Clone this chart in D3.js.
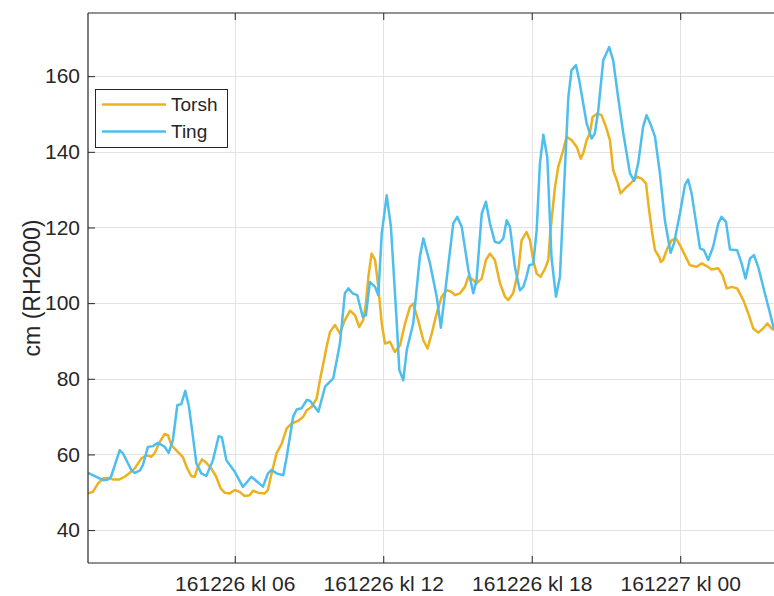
<!DOCTYPE html>
<html>
<head>
<meta charset="utf-8">
<script src="https://cdn.jsdelivr.net/npm/d3@7"></script>
<style>
  html, body { margin: 0; padding: 0; background: #fff; }
  svg { display: block; }
  text { font-family: "Liberation Sans", Arial, Helvetica, sans-serif; fill: #262626; }
</style>
</head>
<body>
<svg id="chart" width="774" height="596"></svg>
<script>
// Water level, hours after 2016-12-26 00:00, cm (RH2000)
const torshHours = [0.07,0.27,0.47,0.68,0.88,1.08,1.35,1.55,1.75,1.96,
  2.22,2.43,2.63,2.76,2.97,3.17,3.30,3.44,3.64,3.91,
  4.08,4.24,4.38,4.51,4.68,4.85,5.05,5.25,5.43,5.59,
  5.80,6.00,6.20,6.40,6.60,6.74,6.94,7.21,7.34,7.49,
  7.69,7.90,8.10,8.30,8.57,8.77,8.91,9.11,9.31,9.44,
  9.58,9.71,9.85,10.05,10.25,10.45,10.66,10.86,11.03,11.19,
  11.30,11.40,11.53,11.67,11.80,11.94,12.07,12.27,12.47,12.68,
  12.88,13.08,13.21,13.41,13.62,13.79,13.96,14.16,14.36,14.56,
  14.76,14.90,15.10,15.30,15.44,15.64,15.77,15.98,16.15,16.31,
  16.51,16.72,16.92,17.05,17.25,17.46,17.59,17.79,17.93,18.06,
  18.20,18.36,18.53,18.67,18.74,18.94,19.07,19.27,19.41,19.61,
  19.82,19.98,20.08,20.22,20.35,20.46,20.65,20.82,21.00,21.16,
  21.29,21.46,21.59,21.77,21.97,22.24,22.44,22.62,22.71,22.85,
  22.98,23.15,23.21,23.31,23.45,23.65,23.83,23.99,24.19,24.39,
  24.66,24.87,25.07,25.27,25.54,25.71,25.88,26.08,26.30,26.55,
  26.75,26.95,27.15,27.35,27.52,27.69,27.79];
const torshLevels = [49.7,50.1,52.3,53.7,53.8,53.4,53.4,54.1,55.1,56.3,
  58.9,59.8,59.4,60.3,63.3,65.4,65.1,62.5,61.1,59.2,
  56.3,54.3,54.1,56.7,58.7,57.8,56.3,54.1,51.0,49.9,
  49.7,50.6,50.1,49.0,49.2,50.4,49.9,49.7,50.6,55.0,
  60.3,62.9,66.9,68.2,68.9,70.0,71.7,72.6,74.8,79.6,
  84.1,88.4,92.4,94.2,92.0,95.5,98.0,96.8,93.7,95.5,
  99.9,107.0,113.1,111.4,104.3,94.6,89.3,89.8,87.1,88.9,
  94.6,99.0,99.9,95.5,90.2,88.0,92.0,97.3,101.7,103.4,
  103.0,102.1,102.6,104.3,107.0,106.1,105.2,106.5,111.4,113.1,
  111.4,105.2,101.7,100.8,102.6,108.7,116.6,118.8,116.6,111.4,
  107.8,107.0,109.0,111.4,118.0,130.7,136.0,140.4,144.0,143.1,
  141.3,138.2,139.6,143.1,144.9,149.2,150.1,149.7,146.6,143.1,
  135.2,132.1,129.0,130.3,131.5,133.4,132.9,131.6,126.3,119.3,
  114.0,112.2,110.9,111.4,114.0,116.6,117.1,115.3,112.7,110.0,
  109.6,110.5,109.8,108.9,109.2,107.4,103.9,104.3,103.9,100.8,
  97.3,93.3,92.2,93.3,94.6,93.3,92.9];

const tingHours = [0.07,0.68,0.88,1.00,1.35,1.48,1.82,1.96,2.16,2.29,
  2.49,2.70,2.90,3.17,3.33,3.50,3.68,3.84,4.00,4.15,
  4.31,4.45,4.65,4.85,5.12,5.35,5.48,5.66,6.00,6.33,
  6.67,7.14,7.34,7.49,7.69,7.96,8.10,8.36,8.50,8.70,
  8.91,9.04,9.38,9.65,9.98,10.25,10.45,10.59,10.76,10.95,
  11.17,11.30,11.46,11.67,11.80,11.94,12.14,12.31,12.54,12.65,
  12.81,12.95,13.21,13.48,13.62,13.89,14.16,14.33,14.83,14.99,
  15.17,15.44,15.64,15.77,15.98,16.15,16.31,16.51,16.69,16.85,
  16.99,17.12,17.32,17.52,17.66,17.79,17.90,18.06,18.20,18.33,
  18.47,18.63,18.80,18.98,19.14,19.34,19.48,19.61,19.79,19.92,
  20.22,20.42,20.55,20.69,20.89,21.13,21.29,21.49,21.70,21.97,
  22.14,22.30,22.50,22.64,22.82,22.98,23.18,23.38,23.61,23.75,
  23.99,24.19,24.32,24.46,24.80,24.96,25.13,25.33,25.54,25.67,
  25.85,26.01,26.30,26.48,26.64,26.82,26.98,27.15,27.42,27.63,
  27.79];
const tingLevels = [55.1,53.2,53.4,54.1,61.1,60.3,55.9,55.1,55.7,57.2,
  62.0,62.2,63.1,62.0,60.4,63.8,73.0,73.3,76.8,72.6,
  64.7,57.6,55.0,54.3,58.5,64.8,64.5,58.5,55.4,51.4,
  54.1,51.5,55.0,55.9,55.0,54.5,59.4,70.0,71.9,72.2,
  74.4,74.2,71.3,77.9,80.1,89.3,102.6,103.9,102.6,102.1,
  96.4,96.8,105.6,104.3,102.1,118.4,128.5,120.2,95.5,82.3,
  79.6,87.6,94.6,112.2,117.1,110.5,101.7,93.5,121.1,122.8,
  120.2,108.7,102.6,106.1,123.7,126.8,121.1,116.2,115.9,117.1,
  121.9,120.2,109.6,103.4,104.3,107.0,110.0,110.3,119.3,136.9,
  144.5,138.5,112.0,101.7,107.0,135.2,154.5,161.6,162.9,158.9,
  147.5,143.5,144.9,151.0,164.2,167.7,164.2,154.5,144.9,134.3,
  132.3,136.9,146.6,149.7,147.0,144.0,134.3,121.9,113.3,115.8,
  123.7,131.2,132.7,129.0,114.5,114.0,111.4,114.9,121.1,122.8,
  121.5,114.2,114.0,110.5,106.5,111.8,112.7,109.6,102.6,97.3,
  93.0];

const seriesNames = ["Torsh", "Ting"];
const seriesColors = ["#EDB120", "#4DBEEE"];
const yTicks = [40, 60, 80, 100, 120, 140, 160];
const xTickHours = [6, 12, 18, 24];
const yLabel = "cm (RH2000)";

const base = new Date(2016, 11, 26, 0, 0, 0);
const toDate = h => new Date(base.getTime() + h * 3600 * 1000);

const svg = d3.select("#chart");
const plotLeft = 88, plotTop = 13, plotBottom = 563, frameRight = 790;

const x = d3.scaleTime()
  .domain([toDate(0.07), toDate(27.79)])
  .range([plotLeft, 774]);
const y = d3.scaleLinear()
  .domain([31.3, 176.7])
  .range([plotBottom, plotTop]);

const xTicks = xTickHours.map(toDate);
const fmt = d3.timeFormat("%y%m%d kl %H");

// grid
const grid = svg.append("g").attr("stroke", "#e3e3e3").attr("stroke-width", 1);
grid.selectAll(".gy").data(yTicks).enter().append("line")
  .attr("x1", plotLeft).attr("x2", frameRight)
  .attr("y1", d => Math.round(y(d)) + 0.5).attr("y2", d => Math.round(y(d)) + 0.5);
grid.selectAll(".gx").data(xTicks).enter().append("line")
  .attr("y1", plotTop).attr("y2", plotBottom)
  .attr("x1", d => Math.round(x(d)) + 0.5).attr("x2", d => Math.round(x(d)) + 0.5);

// data lines
svg.append("clipPath").attr("id", "plotclip").append("rect")
  .attr("x", plotLeft).attr("y", plotTop)
  .attr("width", frameRight - plotLeft).attr("height", plotBottom - plotTop);

const line = d3.line().x(d => x(d.t)).y(d => y(d.v));
const series = [
  torshHours.map((h, i) => ({ t: toDate(h), v: torshLevels[i] })),
  tingHours.map((h, i) => ({ t: toDate(h), v: tingLevels[i] }))
];
const plot = svg.append("g").attr("clip-path", "url(#plotclip)");
series.forEach((s, i) => {
  plot.append("path").datum(s)
    .attr("d", line)
    .attr("fill", "none")
    .attr("stroke", seriesColors[i])
    .attr("stroke-width", 2.5)
    .attr("stroke-linejoin", "round");
});

// axes
const yAxis = d3.axisLeft(y).tickValues(yTicks).tickSizeInner(-7).tickSizeOuter(0).tickPadding(8);
const gy = svg.append("g").attr("transform", `translate(${plotLeft},0)`).call(yAxis);
gy.selectAll("text").style("font-size", "21px").attr("fill", "#262626");

const xAxis = d3.axisBottom(x).tickValues(xTicks).tickFormat(fmt)
  .tickSizeInner(-7).tickSizeOuter(0).tickPadding(13);
const gx = svg.append("g").attr("transform", `translate(0,${plotBottom})`).call(xAxis);
gx.selectAll("text").style("font-size", "21px").attr("fill", "#262626");

const xTop = d3.axisTop(x).tickValues(xTicks).tickFormat("").tickSizeInner(-7).tickSizeOuter(0);
const gt = svg.append("g").attr("transform", `translate(0,${plotTop})`).call(xTop);

[gy, gx, gt].forEach(g => {
  g.select(".domain").remove();
  g.selectAll(".tick line").attr("stroke", "#262626").attr("stroke-width", 1);
});

// frame
const frame = svg.append("g").attr("stroke", "#262626").attr("stroke-width", 1.2);
frame.append("line").attr("x1", plotLeft).attr("x2", plotLeft).attr("y1", plotTop).attr("y2", plotBottom);
frame.append("line").attr("x1", plotLeft).attr("x2", frameRight).attr("y1", plotBottom).attr("y2", plotBottom);
frame.append("line").attr("x1", plotLeft).attr("x2", frameRight).attr("y1", plotTop).attr("y2", plotTop);

// y label
svg.append("text")
  .attr("transform", `translate(32,${(plotTop + plotBottom) / 2}) rotate(-90)`)
  .attr("text-anchor", "middle")
  .attr("dominant-baseline", "central")
  .style("font-size", "23px")
  .text(yLabel);

// legend
const lg = svg.append("g").attr("transform", "translate(95,89)");
lg.append("rect").attr("x", 0.5).attr("y", 0.5).attr("width", 132).attr("height", 58)
  .attr("fill", "#fff").attr("stroke", "#262626").attr("stroke-width", 1);
seriesNames.forEach((name, i) => {
  const ly = 15.5 + i * 27;
  lg.append("line").attr("x1", 7).attr("x2", 71).attr("y1", ly).attr("y2", ly)
    .attr("stroke", seriesColors[i]).attr("stroke-width", 2.5);
  lg.append("text").attr("x", 76).attr("y", ly).attr("dominant-baseline", "central")
    .style("font-size", "19px").text(name);
});
</script>
</body>
</html>
